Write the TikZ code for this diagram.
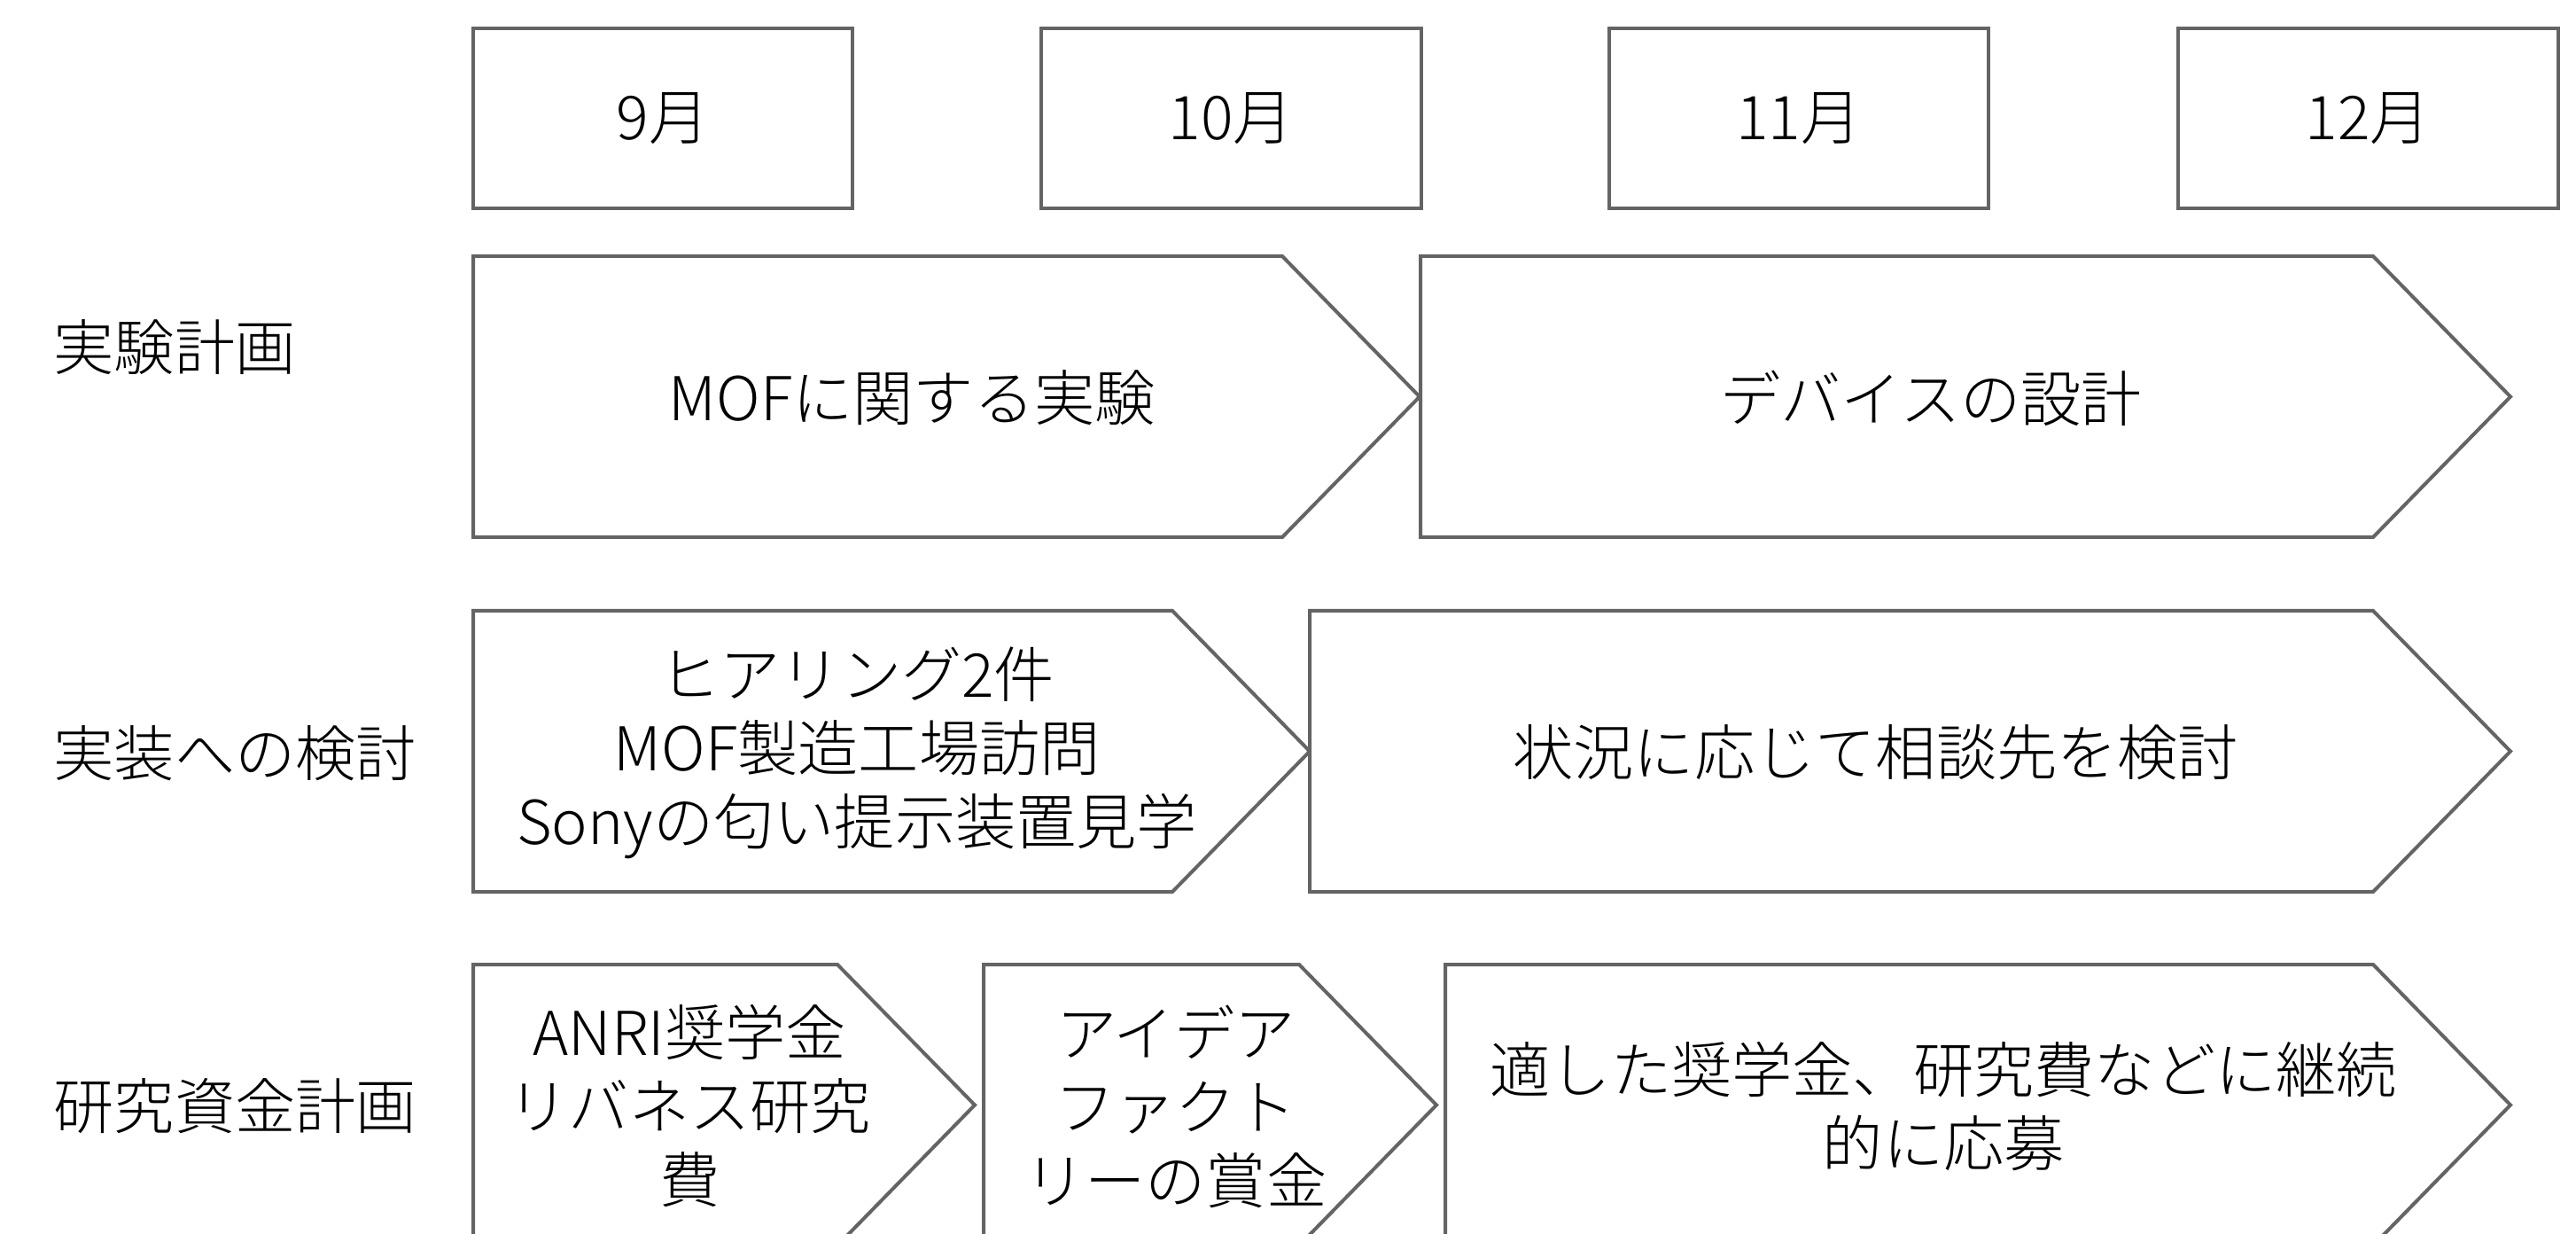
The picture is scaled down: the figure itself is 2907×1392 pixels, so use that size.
\documentclass[tikz,border=0pt]{standalone}
\usepackage{fontspec}
\setmainfont{Noto Sans CJK JP}[UprightFont=* Light]
\definecolor{linegray}{RGB}{100,100,100}
\tikzset{
  box/.style={draw=linegray, line width=0.04cm, fill=white},
  txt/.style={font=\fontsize{19.4pt}{23.6pt}\selectfont, align=center, inner sep=0pt, text=black},
  lbl/.style={font=\fontsize{19.4pt}{23.6pt}\selectfont, anchor=west, inner sep=0pt, text=black},
  monthbox/.style={box, txt, minimum width=4.28cm, minimum height=2.03cm}
}
\newcommand\chev[5]{%
  \draw[box] (#2,#4) -- (#3-155,#4) -- (#3,#4+158.5) -- (#3-155,#4+317) -- (#2,#4+317) -- cycle;
  \node[txt] (#1) at ({(#2+#3-77.5)/2},#4+160) {#5};}
\begin{document}
\begin{tikzpicture}[x=0.01cm, y=-0.01cm]
\useasboundingbox (0,0) rectangle (2907,1392);
\clip (0,0) rectangle (2907,1392);
\fill[white] (0,0) rectangle (2907,1392);
% month headers
\node[monthbox] (m9)  at (748,133.5)  {9月};
\node[monthbox] (m10) at (1389.5,133.5) {10月};
\node[monthbox] (m11) at (2030,133.5) {11月};
\node[monthbox] (m12) at (2672.5,133.5) {12月};
% row labels
\node[lbl] (l1) at (60,392) {実験計画};
\node[lbl] (l2) at (60,850) {実装への検討};
\node[lbl] (l3) at (60,1248) {研究資金計画};
% row 1
\chev{a1}{534}{1602}{289}{MOFに関する実験}
\chev{a2}{1603}{2833}{289}{デバイスの設計}
% row 2
\chev{b1}{534}{1478}{689}{ヒアリング2件\\MOF製造工場訪問\\Sonyの匂い提示装置見学}
\chev{b2}{1478}{2833}{689}{状況に応じて相談先を検討}
% row 3
\chev{c1}{534}{1100}{1088}{ANRI奨学金\\リバネス研究\\費}
\chev{c2}{1110}{1621}{1088}{アイデア\\ファクト\\リーの賞金}
\chev{c3}{1631}{2833}{1088}{適した奨学金、研究費などに継続\\的に応募}
\end{tikzpicture}
\end{document}
